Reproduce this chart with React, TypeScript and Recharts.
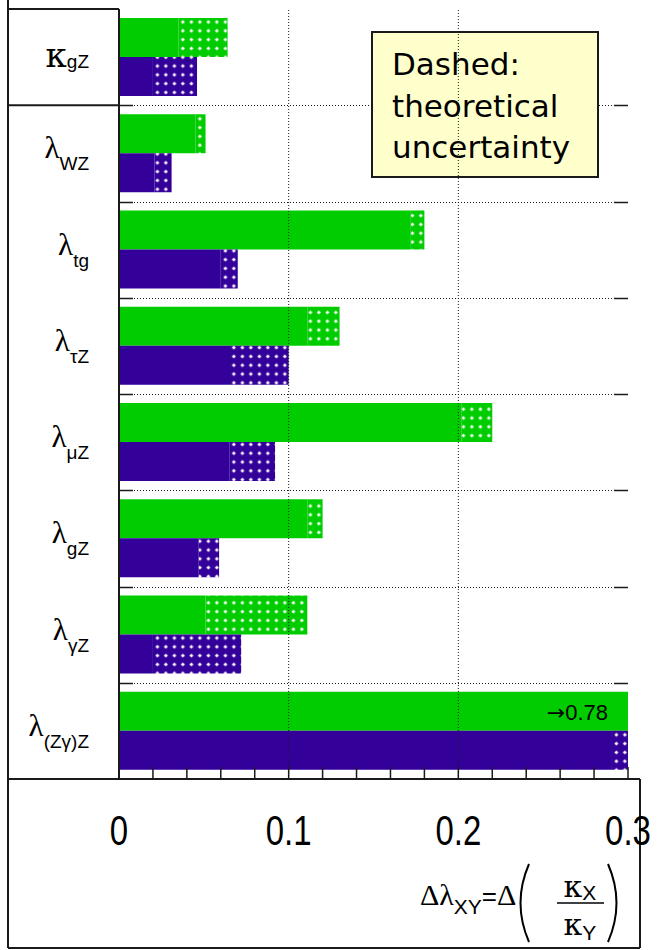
import { Bar, BarChart, ReferenceDot, ReferenceLine, XAxis, YAxis } from 'recharts';

// coupling symbols and their subscripts, top to bottom
const SYMBOLS = ['κ', 'λ', 'λ', 'λ', 'λ', 'λ', 'λ', 'λ'];
const SUBSCRIPTS = ['gZ', 'WZ', 'tg', 'τZ', 'μZ', 'gZ', 'γZ', '(Zγ)Z'];
const CATEGORIES = SYMBOLS.map((s, i) => s + SUBSCRIPTS[i]);

// green: experimental part and total including theory
const GREEN_STAT = [0.035, 0.045, 0.172, 0.111, 0.202, 0.111, 0.051, 0.78];
const GREEN_TOTAL = [0.064, 0.051, 0.18, 0.13, 0.22, 0.12, 0.111, 0.78];
// purple: same split
const PURPLE_STAT = [0.02, 0.021, 0.06, 0.066, 0.065, 0.047, 0.02, 0.29];
const PURPLE_TOTAL = [0.046, 0.031, 0.07, 0.1, 0.092, 0.059, 0.072, 0.302];

const X_MAX = 0.3;
const X_TICKS = [0, 0.02, 0.04, 0.06, 0.08, 0.1, 0.12, 0.14, 0.16, 0.18, 0.2, 0.22, 0.24, 0.26, 0.28, 0.3];
const X_MAJOR = [0, 0.1, 0.2, 0.3];
const X_LABELS = ['0', '0.1', '0.2', '0.3'];
const OVERFLOW_VALUE = '0.78';

const GREEN = '#00cc00';
const PURPLE = '#330099';
const INK = '#1a1a1a';

const W = 657;
const H = 950;
const FRAME_LEFT = 8;
const PLOT_LEFT = 119;
const PLOT_TOP = 9;
const PLOT_RIGHT = 628;
const PLOT_BOTTOM = 779;
const BOX_RIGHT = 640;
const BOX_BOTTOM = 948;
const X_AXIS_H = 60;
const TICK_LEN = 12;
const SIDE_TICK = 14;
const BAND_GAP = 9;

const data = CATEGORIES.map((name, i) => ({
  name,
  gStat: GREEN_STAT[i],
  gTheo: +(GREEN_TOTAL[i] - GREEN_STAT[i]).toFixed(4),
  pStat: PURPLE_STAT[i],
  pTheo: +(PURPLE_TOTAL[i] - PURPLE_STAT[i]).toFixed(4),
}));

const majorIndex = (v: number) => X_MAJOR.findIndex((m) => Math.abs(m - v) < 1e-9);

const BottomTick = ({ x, y, payload }: any) => {
  const idx = majorIndex(payload.value);
  return (
    <g>
      <line x1={x} x2={x} y1={y} y2={y - TICK_LEN} stroke={INK} strokeWidth={1.5} />
      {idx >= 0 && (
        <text
          transform={`translate(${x},${y + 66}) scale(1,1.3)`}
          textAnchor="middle"
          fontFamily="Liberation Sans"
          fontSize={33}
          fill="#000"
        >
          {X_LABELS[idx]}
        </text>
      )}
    </g>
  );
};

const TopTick = ({ x, y }: any) => (
  <line x1={x} x2={x} y1={y} y2={y + TICK_LEN} stroke={INK} strokeWidth={1.5} />
);

const CategoryTick = ({ x, y, payload }: any) => {
  const i = CATEGORIES.indexOf(payload.value);
  const kappa = SYMBOLS[i] === 'κ';
  return (
    <text x={x - 30} y={y + (kappa ? 10 : 5)} textAnchor="end" fill="#000">
      <tspan fontFamily={kappa ? 'DejaVu Serif' : 'Liberation Serif'} fontSize={kappa ? 34 : 31}>
        {SYMBOLS[i]}
      </tspan>
      <tspan fontFamily="Liberation Sans" fontSize={19} dy={kappa ? 1 : 12}>
        {SUBSCRIPTS[i]}
      </tspan>
    </text>
  );
};

// white dot grid used for the theory part of each bar
const DotPattern = ({ id, color }: { id: string; color: string }) => (
  <pattern id={id} width={8.5} height={8.8} patternUnits="userSpaceOnUse">
    <rect width={8.5} height={8.8} fill={color} />
    <rect x={3.6} y={2.7} width={1.5} height={3.4} fill="#fff" />
    <rect x={2.6} y={3.7} width={3.5} height={1.5} fill="#fff" />
  </pattern>
);

const OverflowLabel = ({ viewBox }: any) => (
  <text
    x={viewBox.x - 20}
    y={viewBox.y - 19}
    textAnchor="end"
    dominantBaseline="central"
    fontSize={22}
    fill="#000"
  >
    <tspan fontFamily="DejaVu Sans">→</tspan>
    <tspan fontFamily="Liberation Sans">{OVERFLOW_VALUE}</tspan>
  </text>
);

export default function App() {
  const bandH = (PLOT_BOTTOM - PLOT_TOP) / CATEGORIES.length;
  // upper edge of every band but the first, snapped to the pixel grid
  const edges = CATEGORIES.slice(1).map((_, k) => Math.round(PLOT_TOP + (k + 1) * bandH) + 0.5);
  return (
    <div style={{ position: 'absolute', left: 0, top: 0, width: W, height: H, background: '#fff' }}>
      <BarChart
        width={W}
        height={H}
        data={data}
        layout="vertical"
        barCategoryGap={BAND_GAP}
        barGap={0}
        margin={{ top: PLOT_TOP, right: W - PLOT_RIGHT, bottom: H - PLOT_BOTTOM - X_AXIS_H, left: FRAME_LEFT }}
      >
        <defs>
          <DotPattern id="dotsGreen" color={GREEN} />
          <DotPattern id="dotsPurple" color={PURPLE} />
        </defs>

        {/* band separators: dotted across the plot, solid inward ticks at both edges */}
        <g stroke={INK}>
          {edges.map((y) => (
            <g key={y}>
              <line x1={PLOT_LEFT} x2={PLOT_RIGHT} y1={y} y2={y} strokeWidth={1} strokeDasharray="1 2" />
              <line x1={PLOT_LEFT} x2={PLOT_LEFT + SIDE_TICK} y1={y} y2={y} strokeWidth={1.5} />
              <line x1={PLOT_RIGHT - SIDE_TICK} x2={PLOT_RIGHT} y1={y} y2={y} strokeWidth={1.5} />
            </g>
          ))}
        </g>

        <XAxis
          xAxisId="bottom"
          type="number"
          domain={[0, X_MAX]}
          allowDataOverflow
          ticks={X_TICKS}
          interval={0}
          height={X_AXIS_H}
          tickSize={0}
          tickMargin={0}
          tickLine={false}
          axisLine={{ stroke: INK, strokeWidth: 2 }}
          tick={<BottomTick />}
        />
        <XAxis
          xAxisId="top"
          orientation="top"
          type="number"
          domain={[0, X_MAX]}
          allowDataOverflow
          ticks={X_TICKS}
          interval={0}
          height={0}
          tickSize={0}
          tickMargin={0}
          tickLine={false}
          axisLine={{ stroke: INK, strokeWidth: 2 }}
          tick={<TopTick />}
        />
        <YAxis
          type="category"
          dataKey="name"
          width={PLOT_LEFT - FRAME_LEFT}
          interval={0}
          tickSize={0}
          tickMargin={0}
          tickLine={false}
          axisLine={{ stroke: INK, strokeWidth: 2 }}
          tick={<CategoryTick />}
        />
        {/* right-hand frame edge */}
        <YAxis
          yAxisId="right"
          orientation="right"
          type="category"
          dataKey="name"
          width={0}
          tick={false}
          tickLine={false}
          axisLine={{ stroke: INK, strokeWidth: 2 }}
        />

        {X_MAJOR.slice(1, -1).map((v) => (
          <ReferenceLine key={`vx${v}`} xAxisId="bottom" x={v} stroke={INK} strokeWidth={1} strokeDasharray="1 2" />
        ))}

        <Bar xAxisId="bottom" dataKey="gStat" stackId="g" fill={GREEN} isAnimationActive={false} />
        <Bar xAxisId="bottom" dataKey="gTheo" stackId="g" fill="url(#dotsGreen)" isAnimationActive={false} />
        <Bar xAxisId="bottom" dataKey="pStat" stackId="p" fill={PURPLE} isAnimationActive={false} />
        <Bar xAxisId="bottom" dataKey="pTheo" stackId="p" fill="url(#dotsPurple)" isAnimationActive={false} />

        <ReferenceDot
          xAxisId="bottom"
          x={X_MAX}
          y={CATEGORIES[CATEGORIES.length - 1]}
          r={0}
          stroke="none"
          fill="none"
          label={<OverflowLabel />}
        />

        {/* outer frame: label column and the axis-title box */}
        <g stroke={INK} strokeWidth={2} fill="none">
          <line x1={FRAME_LEFT} x2={FRAME_LEFT} y1={0} y2={BOX_BOTTOM} />
          <line x1={FRAME_LEFT} x2={PLOT_LEFT} y1={PLOT_TOP} y2={PLOT_TOP} />
          <line x1={FRAME_LEFT} x2={PLOT_LEFT} y1={PLOT_TOP + bandH} y2={PLOT_TOP + bandH} />
          <line x1={FRAME_LEFT} x2={BOX_RIGHT} y1={PLOT_BOTTOM} y2={PLOT_BOTTOM} />
          <line x1={BOX_RIGHT} x2={BOX_RIGHT} y1={PLOT_BOTTOM} y2={BOX_BOTTOM} />
          <line x1={FRAME_LEFT} x2={BOX_RIGHT} y1={BOX_BOTTOM} y2={BOX_BOTTOM} />
        </g>

        {/* note box */}
        <rect x={372} y={32} width={226} height={145} fill="#ffffcc" stroke={INK} strokeWidth={2} />
        <text fontFamily="DejaVu Sans" fontSize={31} fill="#000">
          <tspan x={392} y={75}>Dashed:</tspan>
          <tspan x={392} y={117}>theoretical</tspan>
          <tspan x={392} y={158}>uncertainty</tspan>
        </text>

        {/* axis title */}
        <g fill="#000">
          <text x={420} y={905}>
            <tspan fontFamily="Liberation Serif" fontSize={30}>Δλ</tspan>
            <tspan fontFamily="Liberation Sans" fontSize={21} dy={9}>XY</tspan>
            <tspan fontFamily="Liberation Sans" fontSize={26} dy={-9}>=</tspan>
            <tspan fontFamily="Liberation Serif" fontSize={30}>Δ</tspan>
          </text>
          <path d="M 529 864 Q 512 903 529 942" stroke="#000" strokeWidth={2} fill="none" />
          <text x={580} y={897} textAnchor="middle">
            <tspan fontFamily="DejaVu Serif" fontSize={30}>κ</tspan>
            <tspan fontFamily="Liberation Sans" fontSize={21} dy={3}>X</tspan>
          </text>
          <line x1={557} x2={604} y1={903} y2={903} stroke="#000" strokeWidth={1.5} />
          <text x={580} y={935} textAnchor="middle">
            <tspan fontFamily="DejaVu Serif" fontSize={30}>κ</tspan>
            <tspan fontFamily="Liberation Sans" fontSize={21} dy={5}>Y</tspan>
          </text>
          <path d="M 608 864 Q 625 903 608 942" stroke="#000" strokeWidth={2} fill="none" />
        </g>
      </BarChart>
    </div>
  );
}
